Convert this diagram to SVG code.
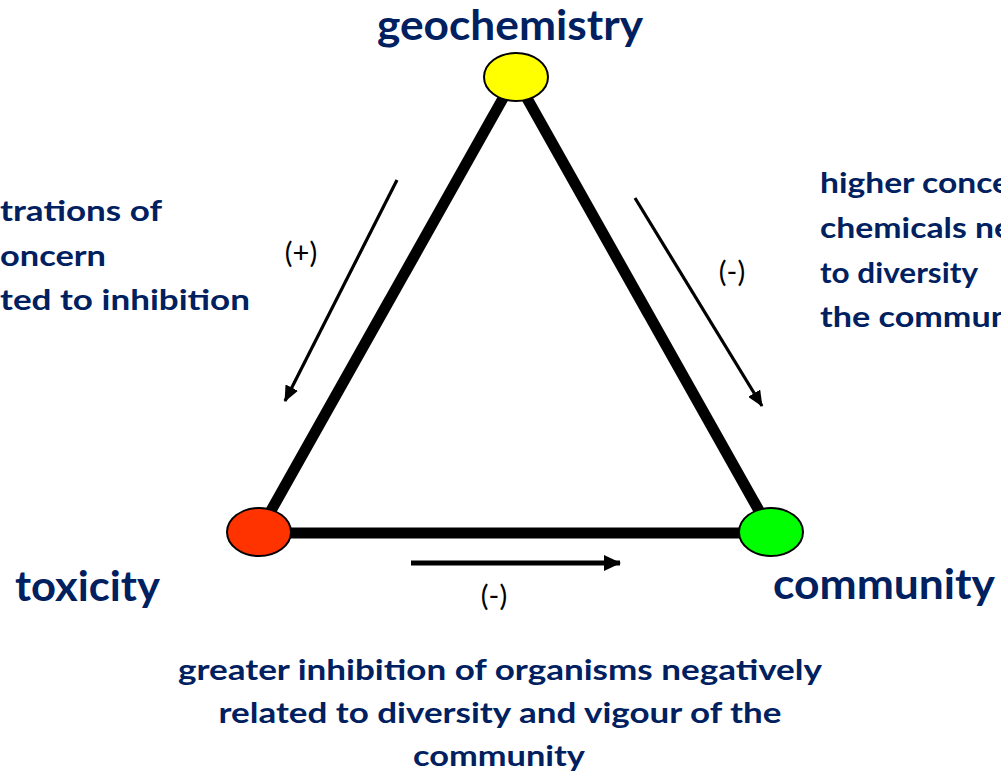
<svg xmlns="http://www.w3.org/2000/svg" width="1001" height="773" viewBox="0 0 1001 773">
<style>
.t{font-family:Lato,"Liberation Sans",sans-serif;font-weight:700;fill:#002060}
.big{font-size:42px}
.d{font-size:28px}
.s{font-family:Lato,"Liberation Sans",sans-serif;font-size:29px;fill:#000}
.node{stroke:#000;stroke-width:2}
.edge{stroke:#000;stroke-width:11;fill:none}
.arr{stroke:#000;stroke-width:3.2;fill:none}
</style>
<defs>
<marker id="ah" markerUnits="userSpaceOnUse" markerWidth="16" markerHeight="14" refX="15" refY="7" orient="auto"><path d="M0,0 L16,7 L0,14 Z" fill="#000"/></marker>
<marker id="ah2" markerUnits="userSpaceOnUse" markerWidth="17" markerHeight="16" refX="16" refY="8" orient="auto"><path d="M0,0 L17,8 L0,16 Z" fill="#000"/></marker>
</defs>
<rect width="1001" height="773" fill="#fff"/>
<g id="connectors">
<line class="edge" x1="515" y1="77" x2="259" y2="532"/>
<line class="edge" x1="515" y1="77" x2="771" y2="532"/>
<line class="edge" x1="259" y1="533" x2="771" y2="533"/>
<line class="arr" x1="397" y1="180" x2="285" y2="401" marker-end="url(#ah)"/>
<line class="arr" x1="635" y1="198" x2="762" y2="406" marker-end="url(#ah)"/>
<line x1="411" y1="563" x2="620" y2="563" stroke="#000" stroke-width="5" marker-end="url(#ah2)"/>
<text class="s" x="301" y="263" text-anchor="middle">(+)</text>
<text class="s" x="732" y="282" text-anchor="middle">(-)</text>
<text class="s" x="494" y="606" text-anchor="middle">(-)</text>
</g>
<g id="geochemistry">
<ellipse class="node" cx="516" cy="77" rx="32" ry="24" fill="#FFFF00"/>
<text class="t big" x="510" y="40" text-anchor="middle" textLength="266" lengthAdjust="spacingAndGlyphs">geochemistry</text>
</g>
<g id="toxicity">
<ellipse class="node" cx="259" cy="532" rx="32" ry="24" fill="#FF3300"/>
<text class="t big" x="15" y="601" textLength="145" lengthAdjust="spacingAndGlyphs">toxicity</text>
</g>
<g id="community">
<ellipse class="node" cx="771" cy="532" rx="32" ry="24" fill="#00FF00"/>
<text class="t big" x="773" y="599" textLength="222" lengthAdjust="spacingAndGlyphs">community</text>
</g>
<g id="label-left">
<text class="t d" x="0" y="221" textLength="162" lengthAdjust="spacingAndGlyphs">trations of</text>
<text class="t d" x="0" y="266" textLength="106" lengthAdjust="spacingAndGlyphs">oncern</text>
<text class="t d" x="0" y="310" textLength="250" lengthAdjust="spacingAndGlyphs">ted to inhibition</text>
</g>
<g id="label-right">
<text class="t d" x="820" y="193" textLength="190" lengthAdjust="spacingAndGlyphs">higher conce</text>
<text class="t d" x="820" y="238" textLength="192" lengthAdjust="spacingAndGlyphs">chemicals ne</text>
<text class="t d" x="820" y="283" textLength="158" lengthAdjust="spacingAndGlyphs">to diversity</text>
<text class="t d" x="820" y="327" textLength="190" lengthAdjust="spacingAndGlyphs">the commun</text>
</g>
<g id="label-bottom">
<text class="t d" x="500" y="680" text-anchor="middle" textLength="644" lengthAdjust="spacingAndGlyphs">greater inhibition of organisms negatively</text>
<text class="t d" x="500" y="723" text-anchor="middle" textLength="563" lengthAdjust="spacingAndGlyphs">related to diversity and vigour of the</text>
<text class="t d" x="499" y="766" text-anchor="middle" textLength="172" lengthAdjust="spacingAndGlyphs">community</text>
</g>
</svg>
